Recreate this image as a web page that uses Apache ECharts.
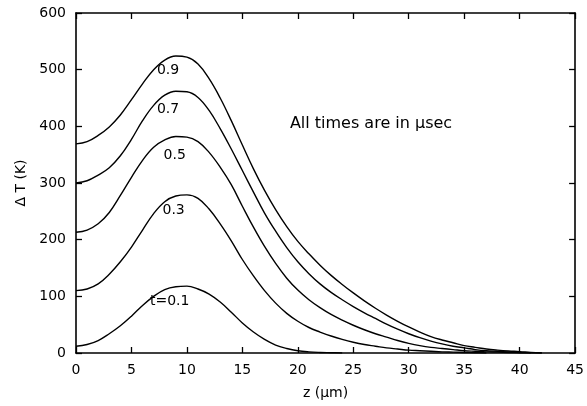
<!DOCTYPE html>
<html>
<head>
<meta charset="utf-8">
<script src="https://cdn.jsdelivr.net/npm/echarts@6/dist/echarts.min.js"></script>
<style>html,body{margin:0;padding:0;background:#fff}#c{width:587px;height:406px}</style>
</head>
<body>
<div id="c"></div>
<script>
var zValues = [0, 1, 2, 3, 4, 5, 6, 7, 8, 9, 10, 11, 12, 13, 14, 15, 16, 17, 18, 19, 20,
  21, 22, 23, 24, 25, 26, 27, 28, 29, 30, 31, 32, 33, 34, 35, 36, 37, 38, 39, 40, 41, 42];
var t09 = [369, 373, 384, 399, 420, 447, 475, 500, 517, 524, 522, 510, 484, 450, 410, 367, 325, 287, 253, 223, 197,
  175, 155, 137, 121, 106, 92, 79, 67, 56, 46, 37, 29, 23, 18, 13, 10, 7, 5, 3.5, 2.5, 1, 0];
var t07 = [300, 304, 314, 327, 348, 377, 410, 437, 455, 462, 461, 451, 428, 396, 360, 322, 284, 247, 215, 186, 161,
  140, 122, 107, 94, 82, 71, 61, 51, 42, 34, 27, 21, 16, 12, 9, 6, 4, 3, 2, 1, 0.5, 0];
var t05 = [213, 217, 228, 248, 278, 310, 340, 363, 376, 382, 381, 373, 354, 328, 297, 259, 222, 188, 158, 132, 111,
  94, 80, 68, 58, 49, 41, 34, 28, 22, 17, 13, 10, 8, 6, 4, 3, 2, 1.5, 1, 0.5, 0];
var t03 = [110, 113, 122, 139, 161, 187, 217, 246, 267, 277, 279, 273, 254, 228, 198, 165, 136, 110, 88, 70, 56,
  45, 37, 30, 24, 19, 15, 12, 9, 7, 5, 4, 3, 2, 1.5, 1, 0.5, 0];
var t01 = [12, 15, 22, 34, 48, 65, 84, 100, 112, 117, 118, 113, 104, 90, 72, 53, 37, 24, 14, 8, 4, 2, 1, 0.5, 0];
var seriesNames = ['0.9', '0.7', '0.5', '0.3', 't=0.1'];
var seriesValues = [t09, t07, t05, t03, t01];
var labelAt = [[8.3, 499], [8.3, 430], [8.9, 348], [8.8, 251], [8.45, 91]];
var xTicks = {min: 0, max: 45, interval: 5};
var yTicks = {min: 0, max: 600, interval: 100};
var noteText = 'All times are in \u03bcsec';
var noteAt = [26.6, 404];
var xTitle = 'z (\u03bcm)';
var yTitle = '\u0394 T (K)';

var font = '"DejaVu Sans", "Liberation Sans", Arial, sans-serif';
var chart = echarts.init(document.getElementById('c'), null, {renderer: 'canvas'});

var series = seriesValues.map(function (vals, i) {
  return {
    type: 'line',
    name: seriesNames[i],
    xAxisIndex: 0, yAxisIndex: 0,
    data: vals.map(function (v, k) { return [zValues[k], v]; }),
    smooth: 0.4,
    showSymbol: false,
    symbol: 'none',
    lineStyle: {color: '#000', width: 1.4},
    silent: true,
    markPoint: {
      symbol: 'circle', symbolSize: 0,
      label: {show: true, color: '#000', fontSize: 14, fontFamily: font, formatter: seriesNames[i]},
      data: [{coord: labelAt[i]}]
    },
    z: 3
  };
});

var axisCommon = function (show) {
  return {
    axisLine: {show: true, onZero: false, lineStyle: {color: '#000', width: 1.6}},
    axisTick: {show: true, inside: true, length: 6, lineStyle: {color: '#000', width: 1.3}},
    splitLine: {show: false},
    axisLabel: {show: show, color: '#000', fontSize: 14, fontFamily: font, margin: 10}
  };
};

var option = {
  backgroundColor: '#fff',
  animation: false,
  grid: {left: 76, right: 10, top: 13, bottom: 53},
  xAxis: [
    Object.assign({type: 'value', position: 'bottom', min: xTicks.min, max: xTicks.max, interval: xTicks.interval,
      name: xTitle, nameLocation: 'middle', nameGap: 33,
      nameTextStyle: {color: '#000', fontSize: 14, fontFamily: font}}, axisCommon(true)),
    Object.assign({type: 'value', position: 'top', min: xTicks.min, max: xTicks.max, interval: xTicks.interval}, axisCommon(false))
  ],
  yAxis: [
    Object.assign({type: 'value', position: 'left', min: yTicks.min, max: yTicks.max, interval: yTicks.interval,
      name: yTitle, nameLocation: 'middle', nameGap: 45,
      nameTextStyle: {color: '#000', fontSize: 14, fontFamily: font}}, axisCommon(true)),
    Object.assign({type: 'value', position: 'right', min: yTicks.min, max: yTicks.max, interval: yTicks.interval}, axisCommon(false))
  ],
  series: series.concat([{
    type: 'scatter', data: [], xAxisIndex: 0, yAxisIndex: 0,
    markPoint: {
      symbol: 'circle', symbolSize: 0,
      label: {show: true, color: '#000', fontSize: 16, fontFamily: font, formatter: noteText},
      data: [{coord: noteAt}]
    }
  }])
};
chart.setOption(option);
</script>
</body>
</html>
